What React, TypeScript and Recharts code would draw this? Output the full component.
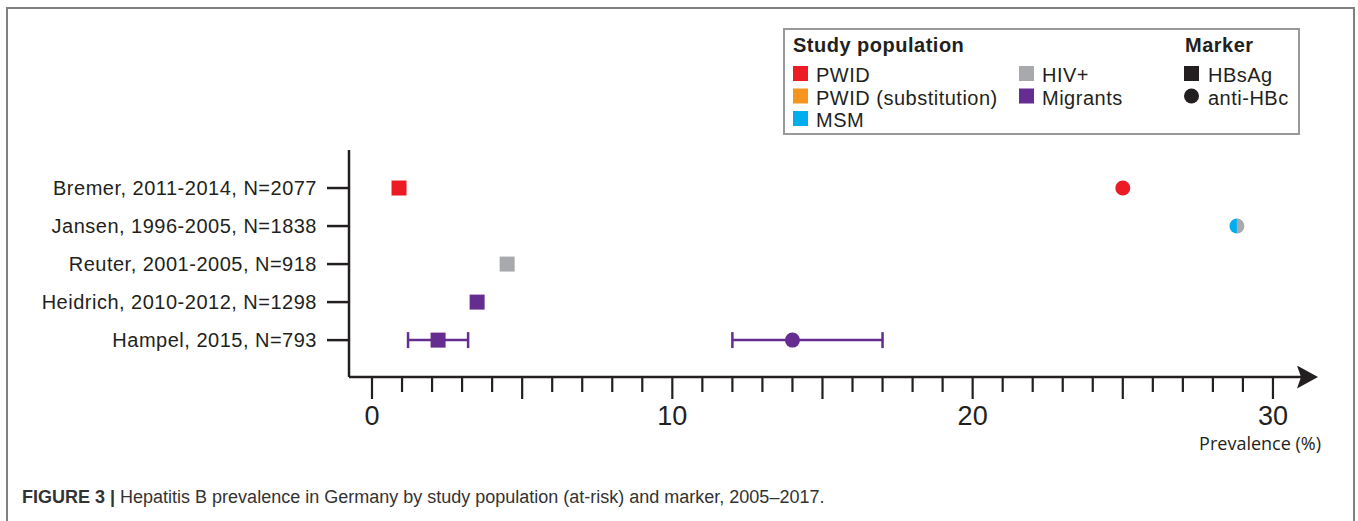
import React from 'react';
import { ScatterChart, Scatter, XAxis, YAxis, ErrorBar } from 'recharts';

const studies = [
  'Bremer, 2011-2014, N=2077',
  'Jansen, 1996-2005, N=1838',
  'Reuter, 2001-2005, N=918',
  'Heidrich, 2010-2012, N=1298',
  'Hampel, 2015, N=793',
];
const studyRows = [0, 1, 2, 3, 4];

// prevalence in %, row = index into studies, lo/hi = interval where reported
const pwidHBsAg = [{ row: 0, prev: 0.9 }];
const pwidAntiHBc = [{ row: 0, prev: 25.0 }];
const msmHivAntiHBc = [{ row: 1, prev: 28.8 }];
const hivHBsAg = [{ row: 2, prev: 4.5 }];
const migrantsHBsAg = [
  { row: 3, prev: 3.5, lo: null, hi: null },
  { row: 4, prev: 2.2, lo: 1.2, hi: 3.2 },
];
const migrantsAntiHBc = [{ row: 4, prev: 14.0, lo: 12.0, hi: 17.0 }];

const xTicks = [0, 1, 2, 3, 4, 5, 6, 7, 8, 9, 10, 11, 12, 13, 14, 15, 16, 17, 18, 19, 20, 21, 22, 23, 24, 25, 26, 27, 28, 29, 30];
const xMajor = [0, 5, 10, 15, 20, 25, 30];
const xLabels = [0, 10, 20, 30];

const populations = [
  { name: 'PWID', color: '#ed1c24', col: 0, line: 0 },
  { name: 'PWID (substitution)', color: '#f7941d', col: 0, line: 1 },
  { name: 'MSM', color: '#00aeef', col: 0, line: 2 },
  { name: 'HIV+', color: '#a7a9ac', col: 1, line: 0 },
  { name: 'Migrants', color: '#662d91', col: 1, line: 1 },
];
const markers = [
  { name: 'HBsAg', kind: 'square' },
  { name: 'anti-HBc', kind: 'circle' },
];

const INK = '#231f20';
const SANS = "'Liberation Sans', Arial, sans-serif";

const withErr = (rows: any[]) =>
  rows.map((d) => ({ ...d, err: d.lo == null ? null : [d.prev - d.lo, d.hi - d.prev] }));

const square = (color: string) => (p: any) =>
  <rect x={p.cx - 7.5} y={p.cy - 7.5} width={15} height={15} fill={color} />;
const dot = (color: string) => (p: any) =>
  <circle cx={p.cx} cy={p.cy} r={7.5} fill={color} />;
const splitDot = (left: string, right: string) => (p: any) => {
  const { cx, cy } = p;
  return (
    <g>
      <path d={`M${cx},${cy - 7.5} A7.5,7.5 0 0,0 ${cx},${cy + 7.5} Z`} fill={left} />
      <path d={`M${cx},${cy - 7.5} A7.5,7.5 0 0,1 ${cx},${cy + 7.5} Z`} fill={right} />
    </g>
  );
};

const XTick = ({ x, y, payload }: any) => {
  const v = payload.value;
  const len = xMajor.includes(v) ? 22 : 15;
  return (
    <g>
      <line x1={x} x2={x} y1={y} y2={y + len} stroke={INK} strokeWidth={2.2} />
      {xLabels.includes(v) && (
        <text x={x} y={y + 48} textAnchor="middle" fontSize={27} fill={INK}
          fontFamily="'Liberation Sans Narrow', 'Liberation Sans', sans-serif">{v}</text>
      )}
    </g>
  );
};

const YTick = ({ x, y, payload }: any) => (
  <text x={x} y={y} dy="0.36em" textAnchor="end" fontSize={20} letterSpacing={0.5}
    fill={INK} fontFamily={SANS}>{studies[payload.value]}</text>
);

const AxisTitle = (props: any) => {
  const vb = props.viewBox;
  return (
    <text x={vb.x + vb.width + 6} y={vb.y + 73} textAnchor="end" fontSize={18}
      fill={INK} fontFamily="'Open Sans', sans-serif">Prevalence (%)</text>
  );
};

const LegendBox = () => (
  <svg width={517} height={107} style={{ position: 'absolute', left: 783, top: 28 }}>
    <rect x={1} y={1} width={515} height={105} fill="#fff" stroke="#999" strokeWidth={2} />
    <g fontFamily={SANS} fontSize={20} fill={INK} letterSpacing={0.5}>
      <text x={10} y={24} fontWeight="bold">Study population</text>
      <text x={402} y={24} fontWeight="bold">Marker</text>
      {populations.map((p) => (
        <g key={p.name}>
          <rect x={p.col ? 236 : 10} y={38 + p.line * 22.5} width={15} height={15} fill={p.color} />
          <text x={p.col ? 259 : 33} y={54 + p.line * 22.5} letterSpacing={0.5}>{p.name}</text>
        </g>
      ))}
      {markers.map((m, i) => (
        <g key={m.name}>
          {m.kind === 'square'
            ? <rect x={401} y={38 + i * 22.5} width={15} height={15} fill={INK} />
            : <circle cx={408.5} cy={45.5 + i * 22.5} r={7.5} fill={INK} />}
          <text x={425} y={54 + i * 22.5} letterSpacing={0.5}>{m.name}</text>
        </g>
      ))}
    </g>
  </svg>
);

export default function App() {
  return (
    <div style={{ position: 'absolute', left: 0, top: 0, width: 1358, height: 521, overflow: 'hidden', background: '#fff' }}>
      <svg width={1358} height={521} style={{ position: 'absolute', left: 0, top: 0 }}>
        <path d="M7,530 L7,8 L1354,8 L1354,530" fill="none" stroke="#808080" strokeWidth={2} />
        <text x={22} y={503} fontSize={18} fill="#333" fontFamily={SANS}>
          <tspan fontWeight="bold">FIGURE 3 |</tspan>
          <tspan> Hepatitis B prevalence in Germany by study population (at-risk) and marker, 2005–2017.</tspan>
        </text>
      </svg>
      <div style={{ position: 'absolute', left: 0, top: 0 }}>
        <ScatterChart width={1358} height={521} margin={{ top: 150, right: 43, bottom: 84, left: 0 }}>
          <defs>
            <marker id="axisArrow" markerUnits="userSpaceOnUse" markerWidth={22} markerHeight={24}
              refX={18} refY={11.5} orient="auto">
              <path d="M0,0 L21,11.5 L0,23 L4,11.5 Z" fill={INK} />
            </marker>
          </defs>
          <XAxis type="number" dataKey="prev" domain={[-0.766, 31.4]} allowDataOverflow
            ticks={xTicks} interval={0} tickLine={false} tickSize={0} tickMargin={0} height={60}
            tick={(p: any) => <XTick {...p} />}
            axisLine={{ stroke: INK, strokeWidth: 2.5, markerEnd: 'url(#axisArrow)' }}
            label={(p: any) => <AxisTitle {...p} />} />
          <YAxis type="number" dataKey="row" domain={[-1, 4.97]} reversed allowDataOverflow
            ticks={studyRows} interval={0} width={349} tickSize={22} tickMargin={10}
            tickLine={{ stroke: INK, strokeWidth: 2.5 }} axisLine={{ stroke: INK, strokeWidth: 2.5 }}
            tick={(p: any) => <YTick {...p} />} />
          <Scatter name="PWID HBsAg" data={pwidHBsAg} shape={square('#ed1c24')} isAnimationActive={false} />
          <Scatter name="PWID anti-HBc" data={pwidAntiHBc} shape={dot('#ed1c24')} isAnimationActive={false} />
          <Scatter name="MSM/HIV+ anti-HBc" data={msmHivAntiHBc} shape={splitDot('#00aeef', '#a7a9ac')} isAnimationActive={false} />
          <Scatter name="HIV+ HBsAg" data={hivHBsAg} shape={square('#a7a9ac')} isAnimationActive={false} />
          <Scatter name="Migrants HBsAg" data={withErr(migrantsHBsAg)} shape={square('#662d91')} isAnimationActive={false}>
            <ErrorBar dataKey="err" direction="x" width={8} stroke="#662d91" strokeWidth={2.5} isAnimationActive={false} />
          </Scatter>
          <Scatter name="Migrants anti-HBc" data={withErr(migrantsAntiHBc)} shape={dot('#662d91')} isAnimationActive={false}>
            <ErrorBar dataKey="err" direction="x" width={8} stroke="#662d91" strokeWidth={2.5} isAnimationActive={false} />
          </Scatter>
        </ScatterChart>
      </div>
      <LegendBox />
    </div>
  );
}
